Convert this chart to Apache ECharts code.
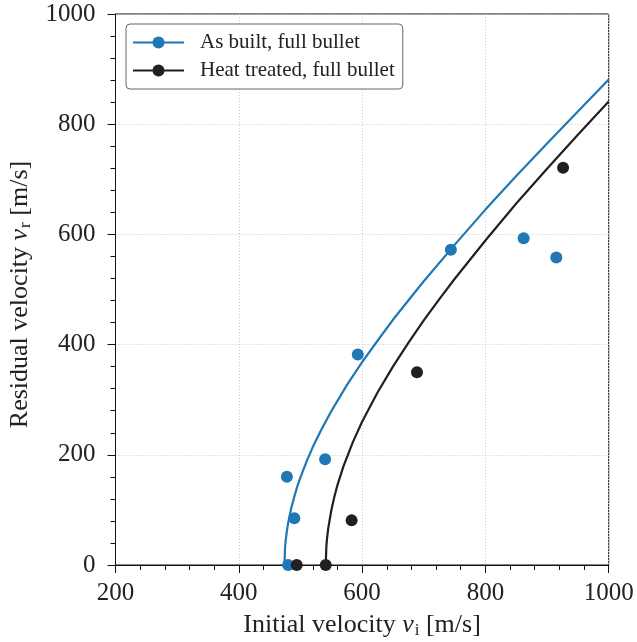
<!DOCTYPE html>
<html>
<head>
<meta charset="utf-8">
<script src="https://cdn.jsdelivr.net/npm/echarts@6/dist/echarts.min.js"></script>
<style>
  html, body { margin: 0; padding: 0; background: #fff; }
  #chart { width: 637px; height: 642px; }
</style>
</head>
<body>
<div id="chart"></div>
<script>
// Measured impact tests
const asBuiltInitial = [480, 478, 490, 540, 593, 744, 862, 915];
const asBuiltResidual = [0, 160, 85, 192, 382, 572, 593, 558];
const heatInitial = [494, 541, 583, 689, 926];
const heatResidual = [0, 0, 81, 350, 721];

// Fitted residual-velocity curves
const asBuiltFitX = [474, 475, 476, 478, 480, 485, 490, 495, 500, 510, 520, 535, 550, 575, 600, 625, 650, 675, 700, 750, 800, 850, 900, 950, 1000];
const asBuiltFitY = [0, 31, 44, 62, 76, 103, 124, 143, 159, 188, 214, 248, 279, 326, 368, 407, 445, 480, 515, 581, 645, 706, 765, 823, 881];
const heatFitX = [541, 542, 543, 545, 550, 555, 560, 570, 585, 600, 625, 650, 675, 700, 725, 750, 800, 850, 900, 950, 1000];
const heatFitY = [0, 33, 47, 66, 99, 124, 145, 180, 223, 260, 313, 360, 403, 444, 482, 519, 589, 656, 719, 781, 841];

const xTicks = [200, 400, 600, 800, 1000];
const yTicks = [0, 200, 400, 600, 800, 1000];
const seriesNames = ['As built, full bullet', 'Heat treated, full bullet'];

const BLUE = '#1f77b4';
const DARK = '#231f20';
const INK = '#222';
const FONT = 'Liberation Serif';

const pairs = (xs, ys) => xs.map((x, i) => [x, ys[i]]);

const nameRich = {
  a: { fontFamily: FONT, fontSize: 26, color: INK, lineHeight: 30 },
  v: { fontFamily: FONT, fontSize: 26, color: INK, fontStyle: 'italic', lineHeight: 30 },
  s: { fontFamily: FONT, fontSize: 17, color: INK, lineHeight: 30, padding: [11, 0, 0, 1] }
};

const chart = echarts.init(document.getElementById('chart'), null, { renderer: 'canvas' });

chart.setOption({
  animation: false,
  backgroundColor: '#fff',
  grid: {
    left: 115.5, right: 28.3, top: 14, bottom: 77,
    outerBoundsMode: 'none',
    containLabel: false,
    show: true, borderColor: '#111', borderWidth: 1, backgroundColor: 'transparent'
  },
  legend: {
    data: seriesNames,
    orient: 'vertical',
    left: 126, top: 24,
    padding: [8, 8, 8, 6],
    itemGap: 7,
    itemWidth: 51,
    itemHeight: 15,
    backgroundColor: '#fff',
    borderColor: '#666',
    borderWidth: 1,
    borderRadius: 4,
    formatter: '{t|{name}}',
    textStyle: {
      fontFamily: FONT, fontSize: 21, color: INK,
      rich: { t: { fontFamily: FONT, fontSize: 21, color: INK, padding: [0, 0, 0, 11] } }
    }
  },
  xAxis: {
    type: 'value',
    min: xTicks[0], max: xTicks[xTicks.length - 1], interval: 200,
    name: '{a|Initial velocity }{v|v}{s|i}{a| [m/s]}',
    nameLocation: 'middle',
    nameGap: 44,
    nameTextStyle: { rich: nameRich },
    axisLine: { show: true, onZero: false, lineStyle: { color: '#111', width: 1 } },
    axisTick: { show: true, length: 8, lineStyle: { color: '#111', width: 1 } },
    minorTick: { show: true, splitNumber: 5, length: 5, lineStyle: { color: '#111', width: 1 } },
    axisLabel: { fontFamily: FONT, fontSize: 25, color: INK, margin: 16, formatter: v => String(v) },
    splitLine: { show: true, lineStyle: { color: '#c8c8c8', width: 1, type: [1, 2] } }
  },
  yAxis: {
    type: 'value',
    min: yTicks[0], max: yTicks[yTicks.length - 1], interval: 200,
    name: '{a|Residual velocity }{v|v}{s|r}{a| [m/s]}',
    nameLocation: 'middle',
    nameGap: 80,
    nameTextStyle: { rich: nameRich, padding: [0, 10, 0, 0] },
    axisLine: { show: true, onZero: false, lineStyle: { color: '#111', width: 1 } },
    axisTick: { show: true, length: 8, lineStyle: { color: '#111', width: 1 } },
    minorTick: { show: true, splitNumber: 5, length: 5, lineStyle: { color: '#111', width: 1 } },
    axisLabel: { fontFamily: FONT, fontSize: 25, color: INK, margin: 20, formatter: v => String(v) },
    splitLine: { show: true, lineStyle: { color: '#c8c8c8', width: 1, type: [1, 2] } }
  },
  series: [
    {
      name: seriesNames[0], type: 'line', data: pairs(asBuiltFitX, asBuiltFitY),
      showSymbol: false, symbol: 'circle', symbolSize: 12,
      lineStyle: { color: BLUE, width: 2.2 }, itemStyle: { color: BLUE }, z: 2
    },
    {
      name: seriesNames[1], type: 'line', data: pairs(heatFitX, heatFitY),
      showSymbol: false, symbol: 'circle', symbolSize: 12,
      lineStyle: { color: DARK, width: 2.2 }, itemStyle: { color: DARK }, z: 2
    },
    {
      name: 'asBuiltTests', type: 'scatter', data: pairs(asBuiltInitial, asBuiltResidual),
      symbol: 'circle', symbolSize: 12, itemStyle: { color: BLUE, opacity: 1 }, z: 3
    },
    {
      name: 'heatTests', type: 'scatter', data: pairs(heatInitial, heatResidual),
      symbol: 'circle', symbolSize: 12, itemStyle: { color: DARK, opacity: 1 }, z: 3
    }
  ]
});
</script>
</body>
</html>
